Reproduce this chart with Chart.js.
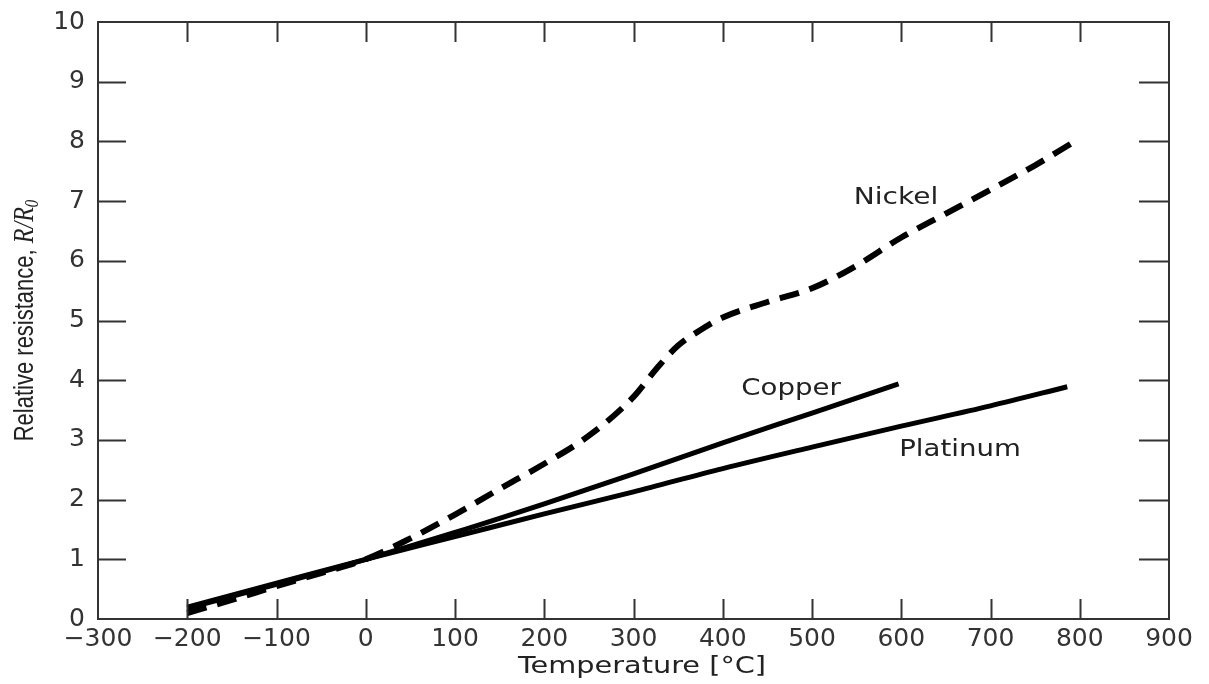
<!DOCTYPE html>
<html>
<head>
<meta charset="utf-8">
<script src="https://cdn.jsdelivr.net/npm/chart.js@4.4.1/dist/chart.umd.min.js"></script>
<style>
html,body{margin:0;padding:0;background:#fff;}
#wrap{width:1209px;height:684px;}
</style>
</head>
<body>
<div id="wrap"><canvas id="c" width="1209" height="684"></canvas></div>
<script>
// ---- data ----
const nickelT   = [-200,-150,-100,-50,0,50,100,150,200,250,300,325,350,375,400,450,500,550,600,650,700,750,790];
const nickelR   = [0.1,0.32,0.55,0.77,1.0,1.35,1.75,2.18,2.6,3.07,3.72,4.18,4.58,4.84,5.05,5.31,5.54,5.92,6.39,6.79,7.19,7.6,7.96];
const copperT   = [-200,-100,0,100,200,300,400,500,597];
const copperR   = [0.18,0.58,1.0,1.45,1.93,2.43,2.95,3.45,3.94];
const platinumT = [-200,-100,0,100,200,300,400,500,600,700,786];
const platinumR = [0.2,0.6,1.0,1.38,1.76,2.13,2.52,2.88,3.23,3.57,3.89];
const xTickValues = [-300,-200,-100,0,100,200,300,400,500,600,700,800,900];
const yTickValues = [0,1,2,3,4,5,6,7,8,9,10];
const seriesLabels = ["Nickel","Copper","Platinum"];
const xTitle = "Temperature [\u00B0C]";
const yTitleMain = "Relative resistance, ";
const yTitleVar = "R/R";
const yTitleSub = "0";

const toPts = (xs, ys) => xs.map((x, i) => ({x: x, y: ys[i]}));

const INK = '#333';

const framePlugin = {
  id: 'frame',
  afterDraw(chart) {
    const {ctx, chartArea: a, scales: {x, y}} = chart;
    ctx.save();
    ctx.strokeStyle = INK;
    ctx.lineWidth = 2;
    ctx.strokeRect(a.left, a.top, a.right - a.left, a.bottom - a.top);
    ctx.beginPath();
    xTickValues.forEach(v => {
      if (v === x.min || v === x.max) return;
      const px = Math.round(x.getPixelForValue(v)) + 0.5;
      ctx.moveTo(px, a.bottom); ctx.lineTo(px, a.bottom - 20);
      ctx.moveTo(px, a.top); ctx.lineTo(px, a.top + 20);
    });
    yTickValues.forEach(v => {
      if (v === y.min || v === y.max) return;
      const py = Math.round(y.getPixelForValue(v)) + 0.5;
      ctx.moveTo(a.left, py); ctx.lineTo(a.left + 28, py);
      ctx.moveTo(a.right, py); ctx.lineTo(a.right - 30, py);
    });
    ctx.stroke();

    // curve labels
    const label = (txt, cx, cy, size, sx) => {
      ctx.save();
      ctx.translate(cx, cy);
      ctx.scale(sx, 1);
      ctx.font = size + 'px "DejaVu Sans"';
      ctx.fillStyle = '#222';
      ctx.textAlign = 'center';
      ctx.textBaseline = 'middle';
      ctx.fillText(txt, 0, 0);
      ctx.restore();
    };
    label(seriesLabels[0], 896, 198, 23, 1.22);
    label(seriesLabels[1], 791, 389, 23, 1.2);
    label(seriesLabels[2], 960, 450, 23, 1.2);

    // x title
    label(xTitle, 642, 667, 23, 1.25);

    // y title (mixed fonts)
    ctx.save();
    ctx.translate(33, (a.top + a.bottom) / 2);
    ctx.scale(1.25, 1);
    ctx.rotate(-Math.PI / 2);
    ctx.fillStyle = '#222';
    ctx.textBaseline = 'alphabetic';
    ctx.textAlign = 'left';
    const f1 = '22px "Liberation Sans"';
    const f2 = 'italic 24px "Liberation Serif"';
    const f3 = 'italic 15px "Liberation Serif"';
    ctx.font = f1; const w1 = ctx.measureText(yTitleMain).width;
    ctx.font = f2; const w2 = ctx.measureText(yTitleVar).width;
    ctx.font = f3; const w3 = ctx.measureText(yTitleSub).width;
    let sxp = -(w1 + w2 + w3) / 2;
    ctx.font = f1; ctx.fillText(yTitleMain, sxp, 0); sxp += w1;
    ctx.font = f2; ctx.fillText(yTitleVar, sxp, 0); sxp += w2;
    ctx.font = f3; ctx.fillText(yTitleSub, sxp, 4);
    ctx.restore();

    ctx.restore();
  }
};

const tickFont = {family: '"DejaVu Sans"', size: 25};

new Chart(document.getElementById('c'), {
  type: 'scatter',
  data: {
    datasets: [
      {label: seriesLabels[0], data: toPts(nickelT, nickelR), showLine: true,
       borderColor: '#000', borderWidth: 6, borderDash: [20, 11], pointRadius: 0,
       cubicInterpolationMode: 'monotone', fill: false},
      {label: seriesLabels[1], data: toPts(copperT, copperR), showLine: true,
       borderColor: '#000', borderWidth: 5, pointRadius: 0,
       cubicInterpolationMode: 'monotone', fill: false},
      {label: seriesLabels[2], data: toPts(platinumT, platinumR), showLine: true,
       borderColor: '#000', borderWidth: 5, pointRadius: 0,
       cubicInterpolationMode: 'monotone', fill: false}
    ]
  },
  options: {
    responsive: false,
    animation: false,
    layout: {padding: {top: 22, right: 40, left: 0, bottom: 0}},
    plugins: {legend: {display: false}, tooltip: {enabled: false}, title: {display: false}},
    scales: {
      x: {
        type: 'linear', min: -300, max: 900,
        afterBuildTicks: s => { s.ticks = xTickValues.map(v => ({value: v})); },
        afterFit: s => { s.height = 65; s.paddingLeft = 0; s.paddingRight = 0; },
        grid: {display: false, drawTicks: false},
        border: {display: false},
        ticks: {
          font: tickFont, color: INK, padding: 5, maxRotation: 0, autoSkip: false,
          callback: v => (v < 0 ? '\u2212' + Math.abs(v) : String(v))
        }
      },
      y: {
        type: 'linear', min: 0, max: 10,
        afterBuildTicks: s => { s.ticks = yTickValues.map(v => ({value: v})); },
        afterFit: s => { s.width = 98; s.paddingTop = 0; s.paddingBottom = 0; },
        grid: {display: false, drawTicks: false},
        border: {display: false},
        ticks: {font: tickFont, color: INK, padding: 13, autoSkip: false,
          callback: v => String(v)}
      }
    }
  },
  plugins: [framePlugin]
});
</script>
</body>
</html>
